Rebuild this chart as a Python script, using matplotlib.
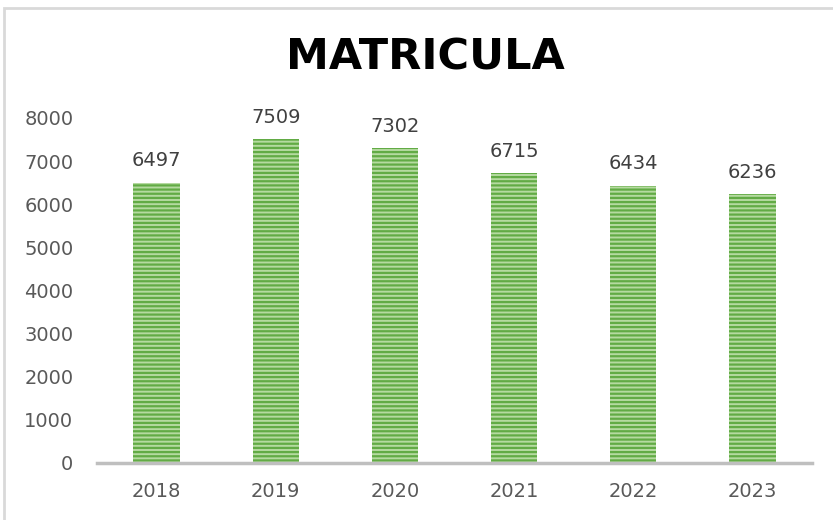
import matplotlib
matplotlib.use('Agg')
import matplotlib.pyplot as plt
from matplotlib.patches import Rectangle

plt.rcParams['font.family'] = ['DejaVu Sans']
plt.rcParams['hatch.linewidth'] = 1.6

# data
years = ['2018', '2019', '2020', '2021', '2022', '2023']
matricula = [6497, 7509, 7302, 6715, 6434, 6236]
y_ticks = [0, 1000, 2000, 3000, 4000, 5000, 6000, 7000, 8000]

TEXT = '#595959'
AXIS = '#bfbfbf'
FACE = '#b5daa0'
STRIPE = '#62ab45'

fig = plt.figure(figsize=(8.33, 5.2), dpi=100)
fig.patch.set_facecolor('white')

# outer chart frame
fig.patches.append(Rectangle((4 / 833, -0.1), 1.2, 1.1 - 8 / 520,
                             transform=fig.transFigure, fill=False,
                             edgecolor='#d9d9d9', linewidth=2))

ax = fig.add_axes([97 / 833, 1 - 463 / 520, 715 / 833, (463 - 118) / 520])
x = range(len(years))
ax.bar(x, matricula, width=0.39, color=FACE, edgecolor=STRIPE,
       hatch='----', linewidth=0)

for xi, v in zip(x, matricula):
    ax.annotate(f'{v}', (xi, v), xytext=(0, 9), textcoords='offset points',
                ha='center', va='bottom', fontsize=14, color='#404040',
                annotation_clip=False)

ax.set_xlim(-0.5, len(years) - 0.5)
ax.set_ylim(0, 8000)
ax.set_yticks(y_ticks)
ax.set_xticks(list(x))
ax.set_xticklabels(years)
ax.tick_params(axis='both', length=0, labelsize=14, colors=TEXT)
ax.tick_params(axis='x', pad=14)
ax.tick_params(axis='y', pad=17)

for s in ['top', 'right', 'left']:
    ax.spines[s].set_visible(False)
ax.spines['bottom'].set_color(AXIS)
ax.spines['bottom'].set_linewidth(2.5)

fig.text(425 / 833, 1 - 57 / 520, 'MATRICULA', ha='center', va='center',
         fontsize=31, fontweight='bold', color='black')

fig.savefig('out.png', dpi=100, facecolor='white')
